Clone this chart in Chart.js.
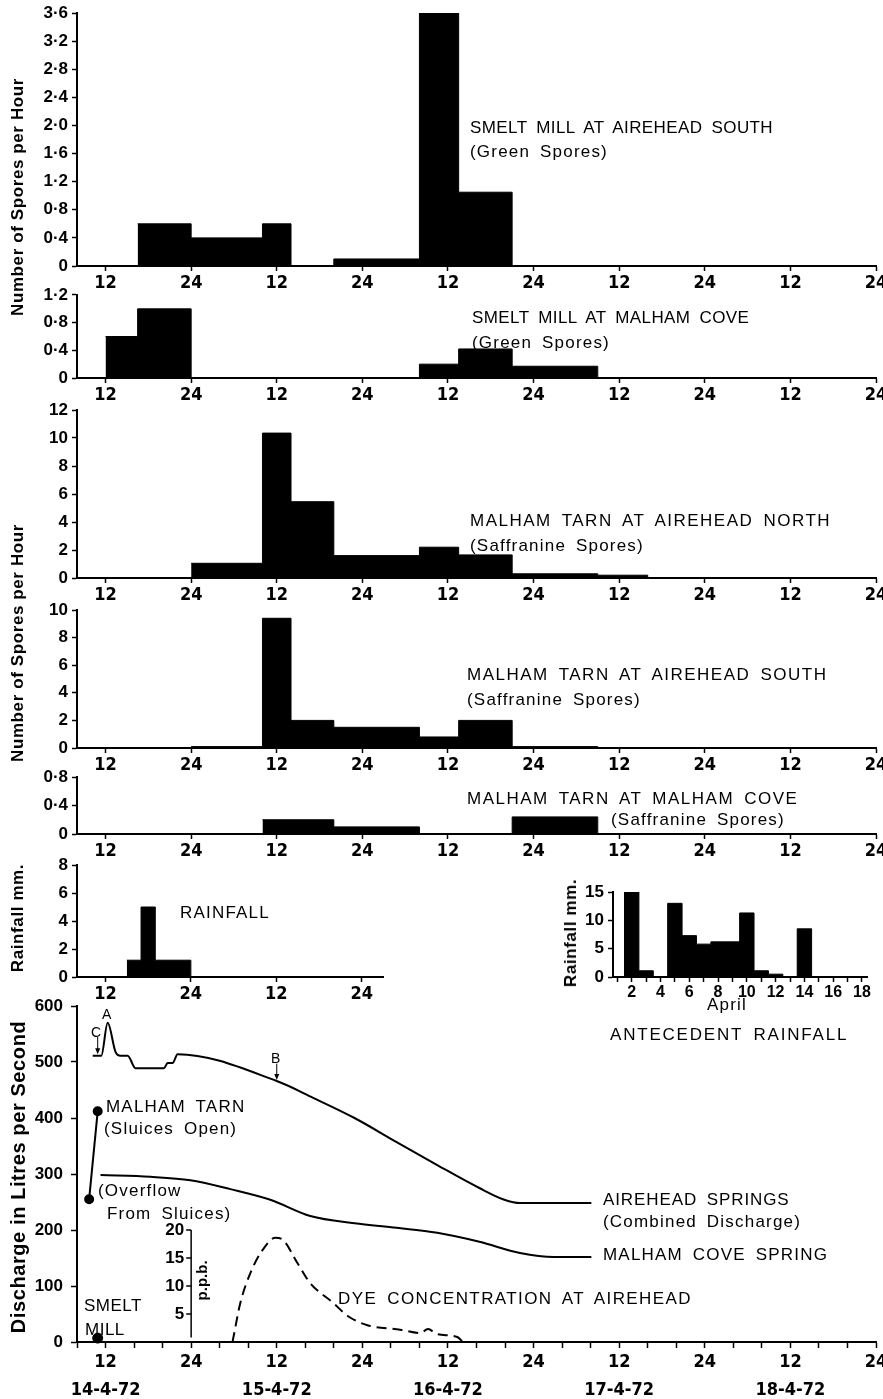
<!DOCTYPE html>
<html><head><meta charset="utf-8">
<script src="https://cdn.jsdelivr.net/npm/chart.js@4.4.0/dist/chart.umd.min.js"></script>
<style>
html,body{margin:0;padding:0;background:#fff;}
#wrap{position:relative;width:883px;height:1399px;overflow:hidden;background:#fff;}
canvas{position:absolute;}
.t{position:absolute;white-space:nowrap;font-family:'Liberation Sans',Arial,sans-serif;font-size:17px;color:#000;line-height:18px;letter-spacing:1.2px;word-spacing:4px;transform:translateY(-50%);}
.s{font-size:14px;letter-spacing:0;word-spacing:0;}
.rot{position:absolute;white-space:nowrap;font-family:'Liberation Sans',Arial,sans-serif;font-weight:bold;font-size:17px;line-height:20px;letter-spacing:0.6px;color:#000;transform:translate(-50%,-50%) rotate(-90deg);}
</style></head><body><div id="wrap"></div>
<script>
// ---------------- DATA ----------------
// hours counted from 00:00 on 14-4-72
const hourTicks = [12,24,36,48,60,72,84,96,108,120];
const hourTicksFine = [8,12,16,20,24,28,32,36,40,44,48,52,56,60,64,68,72,76,80,84,88,92,96,100,104,108,112,116,120];
const rainTicks = [12,24,36,48];
const dateHours = [12,36,60,84,108];
const dateNames = ['14-4-72','15-4-72','16-4-72','17-4-72','18-4-72'];

// histogram bins: start hour of each bin, value held until next start (last value closes)
const smeltAireSouthStarts = [16.5,24,34,38,44,56,61.5,69];
const smeltAireSouthVals   = [0.6,0.4,0.6,0,0.1,3.6,1.05,0];
const smeltCoveStarts = [12,16.5,24,56,61.5,69,81];
const smeltCoveVals   = [0.6,1.0,0,0.2,0.42,0.17,0];
const tarnAireNorthStarts = [24,34,38,44,56,61.5,69,81,88];
const tarnAireNorthVals   = [1.05,10.35,5.45,1.6,2.2,1.65,0.3,0.2,0];
const tarnAireSouthStarts = [24,34,38,44,56,61.5,69,81];
const tarnAireSouthVals   = [0.1,9.4,2.0,1.5,0.8,2.0,0.1,0];
const tarnCoveStarts = [34,44,56,69,81];
const tarnCoveVals   = [0.2,0.1,0,0.24,0];
const rainStarts = [15,17,19,24];
const rainVals   = [1.2,5,1.2,0];

// antecedent rainfall, April days
const anteDays = [1,2,3,4,5,6,7,8,9,10,11,12,13,14,15,16,17,18];
const anteRain = [0,15,1.1,0,13,7.3,5.8,6.2,6.2,11.3,1.1,0.5,0,8.5,0,0,0,0];
const anteTicks = [1,2,3,4,5,6,7,8,9,10,11,12,13,14,15,16,17,18];

// discharge (litres per second)
const aireHours = [10.2,11.4,12.3,13.4,14.1,15.1,16.2,20.2,20.7,21.4,22.1,36,41.1,46.9,52.8,58.5,64.4,67.9,70.1,80.1];
const aireQ     = [511,511,570,518,511,511,489,489,498,498,514,466,436,400,357,316,275,254,248,248];
const coveHours = [11.3,18.3,23.9,29.5,35.1,40.7,46.9,52.8,58.5,64.4,70.1,74.9,80.1];
const coveQ     = [298,295,289,273,254,225,212,204,195,179,159,152,152];
const tarnHours = [9.7,10.9];
const tarnQ     = [255,412];
const smeltHours = [10.9];
const smeltQ     = [7];
// dye concentration at Airehead (p.p.b.)
const dyeHours = [29.8,30.9,32.3,34,35.8,36.8,38.9,40.7,43.9,46,48.7,53.3,56.1,57.2,58.5,61.3,62.1];
const dyePpb   = [0,7,12.3,16.4,18.6,18.3,14.1,10.5,7,4.6,3,2.2,1.6,2.3,1.4,0.9,0];
const ppbTicks = [5,10,15,20];

// ---------------- HELPERS ----------------
const wrap = document.getElementById('wrap');
const pts = (xs, ys) => xs.map((x,i)=>({x:x, y:ys[i]}));
const NARROW = "'Liberation Sans Narrow','DejaVu Sans Condensed','Liberation Sans',sans-serif";
const TICK_FONT = {family:NARROW, size:18, weight:'bold', lineHeight:1.0};
const Y_FONT = {family:"'Liberation Sans',Arial,sans-serif", size:17, weight:'bold'};
const dec = v => v===0 ? '0' : v.toFixed(1).replace('.','\u00B7');
const intf = v => String(Math.round(v));

function mkCanvas(left, top, w, h){
  const c = document.createElement('canvas');
  c.width = w; c.height = h;
  c.style.left = left+'px'; c.style.top = top+'px';
  c.style.width = w+'px'; c.style.height = h+'px';
  wrap.appendChild(c);
  return c;
}

function histSet(starts, vals){
  return {data: pts(starts, vals), stepped: true, fill: 'origin', backgroundColor:'#000', borderColor:'#000', borderWidth:1, pointRadius:0};
}

function panel(o){
  const padTop = o.padTop ?? 12;
  const xAxisH = o.xAxisH ?? 30;
  const cl = o.canvasLeft ?? 0, cr = o.canvasRight ?? 883;
  const w = cr - cl, top = o.plotTop - padTop;
  const h = padTop + (o.plotBottom - o.plotTop) + xAxisH;
  const c = mkCanvas(cl, top, w, h);
  const scales = {
    x: {type:'linear', min:o.xMin, max:o.xMax,
      afterBuildTicks: ax => { ax.ticks = o.xTicks.map(v=>({value:v})); },
      afterFit: s => { s.height = xAxisH; s.paddingLeft = 0; s.paddingRight = 0; },
      ticks:{callback:o.xLabel, font:o.xFont||TICK_FONT, color:'#000', padding:o.xPad??3, maxRotation:0, autoSkip:false},
      grid:{drawOnChartArea:false, drawTicks:true, tickLength:o.tickLen??5, color:'#000', tickWidth:1.5},
      border:{display:true, color:'#000', width:2}},
    y: {min:0, max:o.yMax,
      afterBuildTicks: ax => { const t=[]; for(let i=0;i<=Math.round(o.yMax/o.yStep);i++) t.push({value:i*o.yStep}); ax.ticks=t; },
      afterFit: s => { s.width = o.plotLeft - cl; s.paddingTop = 0; s.paddingBottom = 0; },
      ticks:{callback:o.yFmt, font:o.yFont||Y_FONT, color:'#000', padding:o.yPad??4},
      grid:{drawOnChartArea:false, drawTicks:true, tickLength:o.yTickLen??5, color:'#000', tickWidth:1.5},
      border:{display:true, color:'#000', width:2}}
  };
  Object.assign(scales, o.extraScales||{});
  return new Chart(c, {type:'line', data:{datasets:o.datasets},
    options:{responsive:false, animation:false, devicePixelRatio:1,
      layout:{padding:{left:0, right:cr - o.plotRight, top:padTop, bottom:0}},
      plugins:{legend:{display:false}, tooltip:{enabled:false}},
      scales: scales},
    plugins: o.plugins||[]});
}

const hourLabel = v => (v % 24 === 0) ? '24' : '12';
const L = 77, R = 876, XMIN = 8, XMAX = 120;

// ---------------- SPORE PANELS ----------------
panel({plotLeft:L, plotRight:R, plotTop:13, plotBottom:266, xMin:XMIN, xMax:XMAX, xTicks:hourTicks, xLabel:hourLabel,
  yMax:3.6, yStep:0.4, yFmt:dec, datasets:[histSet(smeltAireSouthStarts, smeltAireSouthVals)]});
panel({plotLeft:L, plotRight:R, plotTop:295, plotBottom:378, xMin:XMIN, xMax:XMAX, xTicks:hourTicks, xLabel:hourLabel,
  yMax:1.2, yStep:0.4, yFmt:dec, datasets:[histSet(smeltCoveStarts, smeltCoveVals)]});
panel({plotLeft:L, plotRight:R, plotTop:410, plotBottom:578, xMin:XMIN, xMax:XMAX, xTicks:hourTicks, xLabel:hourLabel,
  yMax:12, yStep:2, yFmt:intf, datasets:[histSet(tarnAireNorthStarts, tarnAireNorthVals)]});
panel({plotLeft:L, plotRight:R, plotTop:610, plotBottom:748, xMin:XMIN, xMax:XMAX, xTicks:hourTicks, xLabel:hourLabel,
  yMax:10, yStep:2, yFmt:intf, datasets:[histSet(tarnAireSouthStarts, tarnAireSouthVals)]});
panel({plotLeft:L, plotRight:R, plotTop:777, plotBottom:834, xMin:XMIN, xMax:XMAX, xTicks:hourTicks, xLabel:hourLabel,
  yMax:0.8, yStep:0.4, yFmt:dec, datasets:[histSet(tarnCoveStarts, tarnCoveVals)]});

// ---------------- RAINFALL ----------------
panel({plotLeft:L, plotRight:383, canvasRight:400, plotTop:865, plotBottom:977, xMin:XMIN, xMax:51, xTicks:rainTicks, xLabel:hourLabel,
  yMax:8, yStep:2, yFmt:intf, datasets:[histSet(rainStarts, rainVals)]});

// antecedent rainfall inset
panel({plotLeft:613, plotRight:867, canvasLeft:575, canvasRight:883, plotTop:892, plotBottom:977, xMin:0.7, xMax:18.35,
  xTicks:anteTicks, xLabel: v => (v % 2 === 0 ? String(v) : ''), yMax:15, yStep:5, yFmt:intf,
  xFont:{family:"'Liberation Sans',Arial,sans-serif", size:16, weight:'bold', lineHeight:1.0},
  datasets:[histSet(anteDays.map(d=>d-0.5).concat([18.5]), anteRain.concat([0]))]});

// ---------------- DISCHARGE ----------------
const arrows = [{h:10.9, from:545, to:514}, {h:36, from:497, to:468}];
const arrowPlugin = {id:'arrows', afterDatasetsDraw(chart){
  const ctx = chart.ctx, xs = chart.scales.x, ys = chart.scales.y;
  ctx.save(); ctx.strokeStyle='#000'; ctx.fillStyle='#000'; ctx.lineWidth=1;
  arrows.forEach(a=>{
    const x = xs.getPixelForValue(a.h), y1 = ys.getPixelForValue(a.from), y2 = ys.getPixelForValue(a.to);
    ctx.beginPath(); ctx.moveTo(x,y1); ctx.lineTo(x,y2-3); ctx.stroke();
    ctx.beginPath(); ctx.moveTo(x-2.5,y2-6); ctx.lineTo(x+2.5,y2-6); ctx.lineTo(x,y2); ctx.closePath(); ctx.fill();
  });
  ctx.restore();
}};
const ppbPlugin = {id:'ppb', afterDatasetsDraw(chart){
  const ctx = chart.ctx, x = chart.scales.x.getPixelForValue(24), ys = chart.scales.y2;
  ctx.save(); ctx.strokeStyle='#000'; ctx.fillStyle='#000'; ctx.lineWidth=1.5;
  ctx.beginPath(); ctx.moveTo(x, ys.getPixelForValue(0.8)); ctx.lineTo(x, ys.getPixelForValue(20)); ctx.stroke();
  ctx.font = "bold 17px 'Liberation Sans', Arial, sans-serif";
  ctx.textAlign='right'; ctx.textBaseline='middle';
  ppbTicks.forEach(v=>{
    const y = ys.getPixelForValue(v);
    ctx.beginPath(); ctx.moveTo(x-5,y); ctx.lineTo(x,y); ctx.stroke();
    ctx.fillText(String(v), x-7, y);
  });
  ctx.translate(x+12, ys.getPixelForValue(11)); ctx.rotate(-Math.PI/2);
  ctx.textAlign='center'; ctx.font = "bold 15px 'Liberation Sans', Arial, sans-serif";
  ctx.fillText('p.p.b.', 0, 0);
  ctx.restore();
}};
const dischargeLabel = v => {
  const i = dateHours.indexOf(v);
  if (i >= 0) return ['12', dateNames[i]];
  if (v % 24 === 0) return '24';
  return '';
};
panel({plotLeft:L, plotRight:R, plotTop:1006, plotBottom:1342, xAxisH:57, xMin:XMIN, xMax:XMAX, xTicks:hourTicksFine,
  xLabel:dischargeLabel, xPad:0, tickLen:6, xFont:{family:NARROW, size:18, weight:'bold', lineHeight:1.556},
  yMax:600, yStep:100, yFmt:intf, yPad:8, yTickLen:6,
  extraScales:{y2:{type:'linear', display:false, min:0, max:60}},
  plugins:[arrowPlugin, ppbPlugin],
  datasets:[
    {data:pts(aireHours, aireQ), borderColor:'#000', borderWidth:2, pointRadius:0, cubicInterpolationMode:'monotone', fill:false},
    {data:pts(coveHours, coveQ), borderColor:'#000', borderWidth:2, pointRadius:0, cubicInterpolationMode:'monotone', fill:false},
    {data:pts(tarnHours, tarnQ), borderColor:'#000', borderWidth:2, pointRadius:4, pointBackgroundColor:'#000', pointBorderColor:'#000', fill:false, clip:false},
    {data:pts(smeltHours, smeltQ), showLine:false, pointRadius:5, pointBackgroundColor:'#000', pointBorderColor:'#000', clip:false},
    {data:pts(dyeHours, dyePpb), yAxisID:'y2', borderColor:'#000', borderWidth:2, borderDash:[10,6], pointRadius:0, cubicInterpolationMode:'monotone', fill:false}
  ]});

// ---------------- TEXT ----------------
// [left, centreY, text, letterSpacing(px, optional)]
const texts = [
  [470,128,'SMELT MILL AT AIREHEAD SOUTH',0.4], [470,152,'(Green Spores)'],
  [472,318,'SMELT MILL AT MALHAM COVE',0.4], [472,343,'(Green Spores)'],
  [470,521,'MALHAM TARN AT AIREHEAD NORTH',1.5], [470,546,'(Saffranine Spores)'],
  [467,675,'MALHAM TARN AT AIREHEAD SOUTH',1.5], [467,700,'(Saffranine Spores)'],
  [467,799,'MALHAM TARN AT MALHAM COVE',1.5], [611,820,'(Saffranine Spores)'],
  [180,913,'RAINFALL'], [610,1035,'ANTECEDENT RAINFALL',1.8], [707,1005,'April'],
  [106,1107,'MALHAM TARN'], [104,1129,'(Sluices Open)'],
  [98,1191,'(Overflow'], [107,1214,'From Sluices)'],
  [603,1200,'AIREHEAD SPRINGS',0.9], [603,1222,'(Combined Discharge)'], [603,1255,'MALHAM COVE SPRING'],
  [338,1299,'DYE CONCENTRATION AT AIREHEAD',1.4], [84,1306,'SMELT',0.5], [85,1330,'MILL',0.5]
];
texts.forEach(([x,y,s,ls])=>{ const d=document.createElement('div'); d.className='t'; d.style.left=x+'px'; d.style.top=y+'px'; if(ls!==undefined) d.style.letterSpacing=ls+'px'; d.textContent=s; wrap.appendChild(d); });
[[102,1014,'A'],[91,1032,'C'],[271,1058,'B']].forEach(([x,y,s])=>{ const d=document.createElement('div'); d.className='t s'; d.style.left=x+'px'; d.style.top=y+'px'; d.textContent=s; wrap.appendChild(d); });
const rots = [[18,197,'Number of Spores per Hour',17],[18,643,'Number of Spores per Hour',17],[18,918,'Rainfall mm.',17],[18,1177,'Discharge in Litres per Second',20],[571,933,'Rainfall mm.',17]];
rots.forEach(([x,y,s,fs])=>{ const d=document.createElement('div'); d.className='rot'; d.style.left=x+'px'; d.style.top=y+'px'; d.style.fontSize=fs+'px'; d.textContent=s; wrap.appendChild(d); });
</script></body></html>
